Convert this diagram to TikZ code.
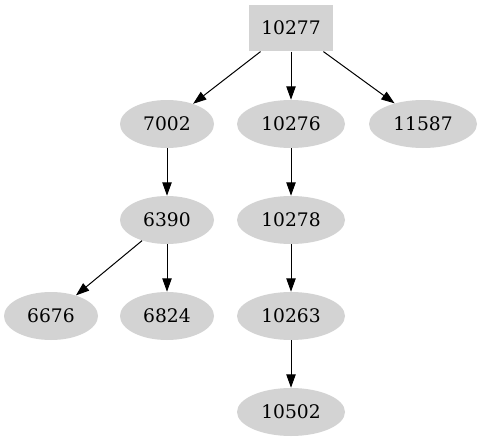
\documentclass[tikz,border=0pt]{standalone}
\usepackage{fontspec}
\setmainfont{DejaVu Serif}
\usepackage{tikz}
\usepackage{xcolor}
\usetikzlibrary{arrows.meta,shapes.geometric}
\definecolor{nodegrey}{HTML}{D3D3D3}

\begin{document}
\begin{tikzpicture}[x=0.75pt,y=-0.75pt,>={Triangle[length=10pt,width=7pt]},
    leaf/.style={ellipse,fill=nodegrey,minimum height=36pt,inner sep=0pt,
      font=\fontsize{14}{16}\selectfont},
    rootbox/.style={rectangle,fill=nodegrey,minimum width=63pt,minimum height=35pt,
      inner sep=0pt,font=\fontsize{14}{16}\selectfont}]
  \useasboundingbox (0,0) rectangle (482,443);
  \node[rootbox] (n10277) at (291,28) {10277};
  \foreach \nm/\x/\y/\w in {
      7002/167/124/70.5pt, 10276/291/124/81pt, 11587/423/124/81pt,
      6390/167/220/70.5pt, 10278/291/220/81pt,
      6676/51/316/70.5pt, 6824/167/316/70.5pt, 10263/291/316/81pt,
      10502/291/412/81pt} {
    \node[leaf,minimum width=\w] (n\nm) at (\x,\y) {\nm};
  }
  \foreach \a/\b in {10277/7002, 10277/10276, 10277/11587, 7002/6390,
      10276/10278, 6390/6676, 6390/6824, 10278/10263, 10263/10502} {
    \draw[->,line width=0.75pt] (n\a) -- (n\b);
  }
\end{tikzpicture}
\end{document}
